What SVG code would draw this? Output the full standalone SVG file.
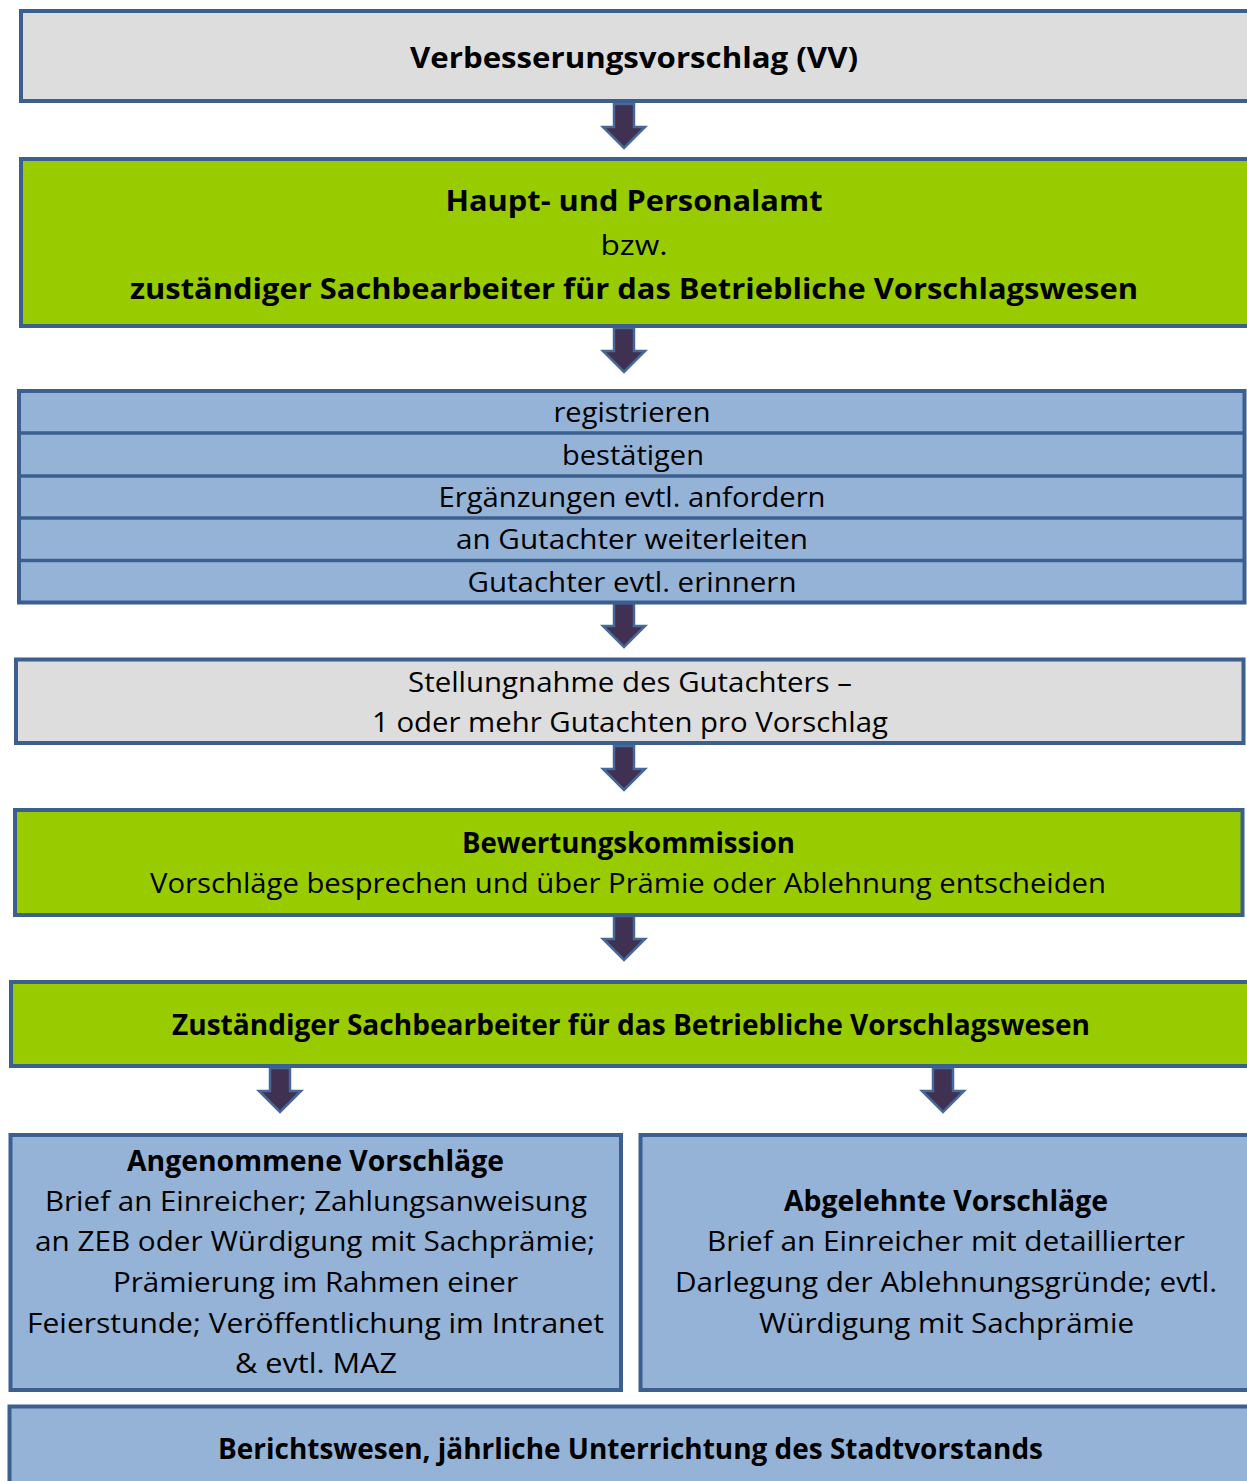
<svg xmlns="http://www.w3.org/2000/svg" xmlns:xlink="http://www.w3.org/1999/xlink" width="1247" height="1481" viewBox="0 0 1247 1481">
  <style>
    .box { stroke: #3b5f8f; stroke-width: 4; }
    .gray { fill: #dddddd; }
    .green { fill: #99cc00; }
    .blue { fill: #95b3d7; }
    .div { stroke: #3b5f8f; stroke-width: 3.5; }
    text { font-family: "Open Sans", "Liberation Sans", sans-serif; font-size: 28px; fill: #000; text-anchor: middle; }
    .b { font-weight: bold; }
  </style>
  <defs>
    <!-- block arrow pointing down, origin at top centre of the shaft -->
    <path id="arrow" d="M -10 0 L 10 0 L 10 23 L 21 23 L 0 44 L -21 23 L -10 23 Z" fill="#403152" stroke="#46689a" stroke-width="2.5" stroke-linejoin="miter"/>
  </defs>

  <rect width="1247" height="1481" fill="#ffffff"/>

  <g id="connectors">
    <use xlink:href="#arrow" x="624" y="104"/>
    <use xlink:href="#arrow" x="624" y="328"/>
    <use xlink:href="#arrow" x="624" y="603"/>
    <use xlink:href="#arrow" x="624" y="746"/>
    <use xlink:href="#arrow" x="624" y="916"/>
    <use xlink:href="#arrow" x="280" y="1068"/>
    <use xlink:href="#arrow" x="943" y="1068"/>
  </g>

  <g id="vv">
    <rect class="box gray" x="21" y="11" width="1240" height="90"/>
    <text class="b" x="634" y="68" textLength="448" lengthAdjust="spacingAndGlyphs">Verbesserungsvorschlag (VV)</text>
  </g>

  <g id="personalamt">
    <rect class="box green" x="21" y="159" width="1240" height="167"/>
    <text class="b" x="634" y="211" textLength="377" lengthAdjust="spacingAndGlyphs">Haupt- und Personalamt</text>
    <text x="634" y="255" textLength="67" lengthAdjust="spacingAndGlyphs">bzw.</text>
    <text class="b" x="634" y="299" textLength="1008" lengthAdjust="spacingAndGlyphs">zuständiger Sachbearbeiter für das Betriebliche Vorschlagswesen</text>
  </g>

  <g id="aufgaben">
    <rect class="box blue" x="19" y="391" width="1225.5" height="211.5"/>
    <line class="div" x1="19" y1="433" x2="1244.5" y2="433"/>
    <line class="div" x1="19" y1="476" x2="1244.5" y2="476"/>
    <line class="div" x1="19" y1="518" x2="1244.5" y2="518"/>
    <line class="div" x1="19" y1="560.5" x2="1244.5" y2="560.5"/>
    <text x="632" y="422" textLength="157" lengthAdjust="spacingAndGlyphs">registrieren</text>
    <text x="633" y="465" textLength="142" lengthAdjust="spacingAndGlyphs">bestätigen</text>
    <text x="632" y="507" textLength="387" lengthAdjust="spacingAndGlyphs">Ergänzungen evtl. anfordern</text>
    <text x="632" y="549" textLength="352" lengthAdjust="spacingAndGlyphs">an Gutachter weiterleiten</text>
    <text x="632" y="592" textLength="329" lengthAdjust="spacingAndGlyphs">Gutachter evtl. erinnern</text>
  </g>

  <g id="stellungnahme">
    <rect class="box gray" x="16" y="659.5" width="1227.5" height="83.5"/>
    <text x="630" y="692" textLength="444" lengthAdjust="spacingAndGlyphs">Stellungnahme des Gutachters –</text>
    <text x="630" y="732" textLength="516" lengthAdjust="spacingAndGlyphs">1 oder mehr Gutachten pro Vorschlag</text>
  </g>

  <g id="kommission">
    <rect class="box green" x="15" y="810" width="1227.5" height="105"/>
    <text class="b" x="628.5" y="853" textLength="333" lengthAdjust="spacingAndGlyphs">Bewertungskommission</text>
    <text x="628" y="893" textLength="956" lengthAdjust="spacingAndGlyphs">Vorschläge besprechen und über Prämie oder Ablehnung entscheiden</text>
  </g>

  <g id="sachbearbeiter">
    <rect class="box green" x="11" y="982" width="1250" height="84"/>
    <text class="b" x="631" y="1035" textLength="918" lengthAdjust="spacingAndGlyphs">Zuständiger Sachbearbeiter für das Betriebliche Vorschlagswesen</text>
  </g>

  <g id="angenommen">
    <rect class="box blue" x="10.5" y="1135" width="610.5" height="255"/>
    <text class="b" x="315.5" y="1171" textLength="377" lengthAdjust="spacingAndGlyphs">Angenommene Vorschläge</text>
    <text x="316" y="1211" textLength="542" lengthAdjust="spacingAndGlyphs">Brief an Einreicher; Zahlungsanweisung</text>
    <text x="315" y="1251" textLength="560" lengthAdjust="spacingAndGlyphs">an ZEB oder Würdigung mit Sachprämie;</text>
    <text x="315.5" y="1292" textLength="405" lengthAdjust="spacingAndGlyphs">Prämierung im Rahmen einer</text>
    <text x="315.5" y="1333" textLength="577" lengthAdjust="spacingAndGlyphs">Feierstunde; Veröffentlichung im Intranet</text>
    <text x="316" y="1373" textLength="162" lengthAdjust="spacingAndGlyphs">&amp; evtl. MAZ</text>
  </g>

  <g id="abgelehnt">
    <rect class="box blue" x="640.5" y="1135" width="620" height="255"/>
    <text class="b" x="946" y="1211" textLength="324" lengthAdjust="spacingAndGlyphs">Abgelehnte Vorschläge</text>
    <text x="946" y="1251" textLength="478" lengthAdjust="spacingAndGlyphs">Brief an Einreicher mit detaillierter</text>
    <text x="946" y="1292" textLength="542" lengthAdjust="spacingAndGlyphs">Darlegung der Ablehnungsgründe; evtl.</text>
    <text x="946.5" y="1333" textLength="375" lengthAdjust="spacingAndGlyphs">Würdigung mit Sachprämie</text>
  </g>

  <g id="berichtswesen">
    <rect class="box blue" x="9.5" y="1406.5" width="1252" height="90"/>
    <text class="b" x="630.5" y="1459" textLength="825" lengthAdjust="spacingAndGlyphs">Berichtswesen, jährliche Unterrichtung des Stadtvorstands</text>
  </g>
</svg>
